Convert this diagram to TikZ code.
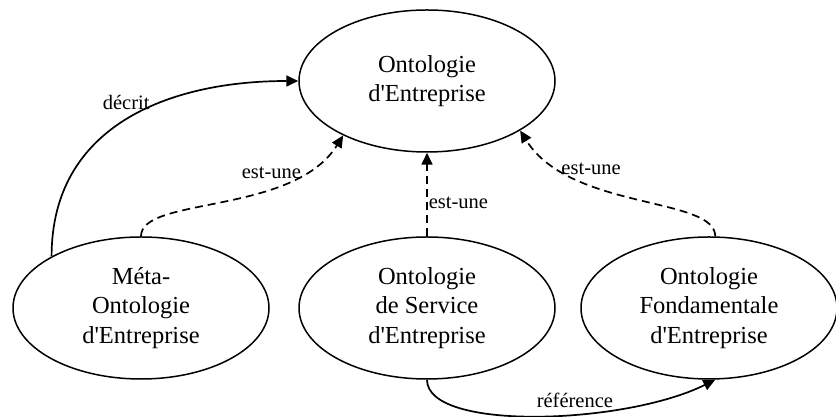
\documentclass[tikz,border=0pt]{standalone}
\usepackage{fontspec}
\setmainfont{Liberation Serif}[Ligatures=TeXOff]
\usetikzlibrary{arrows.meta, shapes.geometric}

\begin{document}
\begin{tikzpicture}[
  x=1pt, y=1pt,
  line join=round,
  ont/.style={
    draw, ellipse, line width=1.5pt, inner sep=0pt, align=center,
    minimum width=256pt, minimum height=142pt,
    font=\fontsize{24.5}{29.5}\selectfont
  },
  rel/.style={-{Triangle[length=12pt,width=11pt]}, line width=1.7pt},
  isa/.style={rel, dash pattern=on 8pt off 5pt},
  lab/.style={font=\fontsize{20.5}{24}\selectfont, inner sep=1pt}
]
\useasboundingbox (0,0) rectangle (836,417);
\node[ont] (onto) at (427,336) {Ontologie\\d'Entreprise};
\node[ont] (meta) at (141,109) {Méta-\\Ontologie\\d'Entreprise};
\node[ont] (serv) at (427,109) {Ontologie\\de Service\\d'Entreprise};
\node[ont] (fond) at (709,109) {Ontologie\\Fondamentale\\d'Entreprise};
% relations
\draw[rel] (meta.150) .. controls +(0,130) and +(-130,0) ..
  node[lab, pos=0.5, above=8pt] {décrit} (onto.west);
\draw[isa] (meta.north) .. controls +(0,40) and +(-50,-80) ..
  node[lab, pos=0.8, left] {est-une} (onto.213);
\draw[isa] (serv.north) -- node[lab, pos=0.4, right] {est-une} (onto.south);
\draw[isa] (fond.85) .. controls +(0,40) and +(50,-80) ..
  node[lab, pos=0.8, right] {est-une} (onto.-28);
\draw[rel] (serv.south) .. controls +(0,-52) and +(-90,-45) ..
  node[lab, pos=0.6, above=5pt] {référence} (fond.-85);
\end{tikzpicture}
\end{document}
